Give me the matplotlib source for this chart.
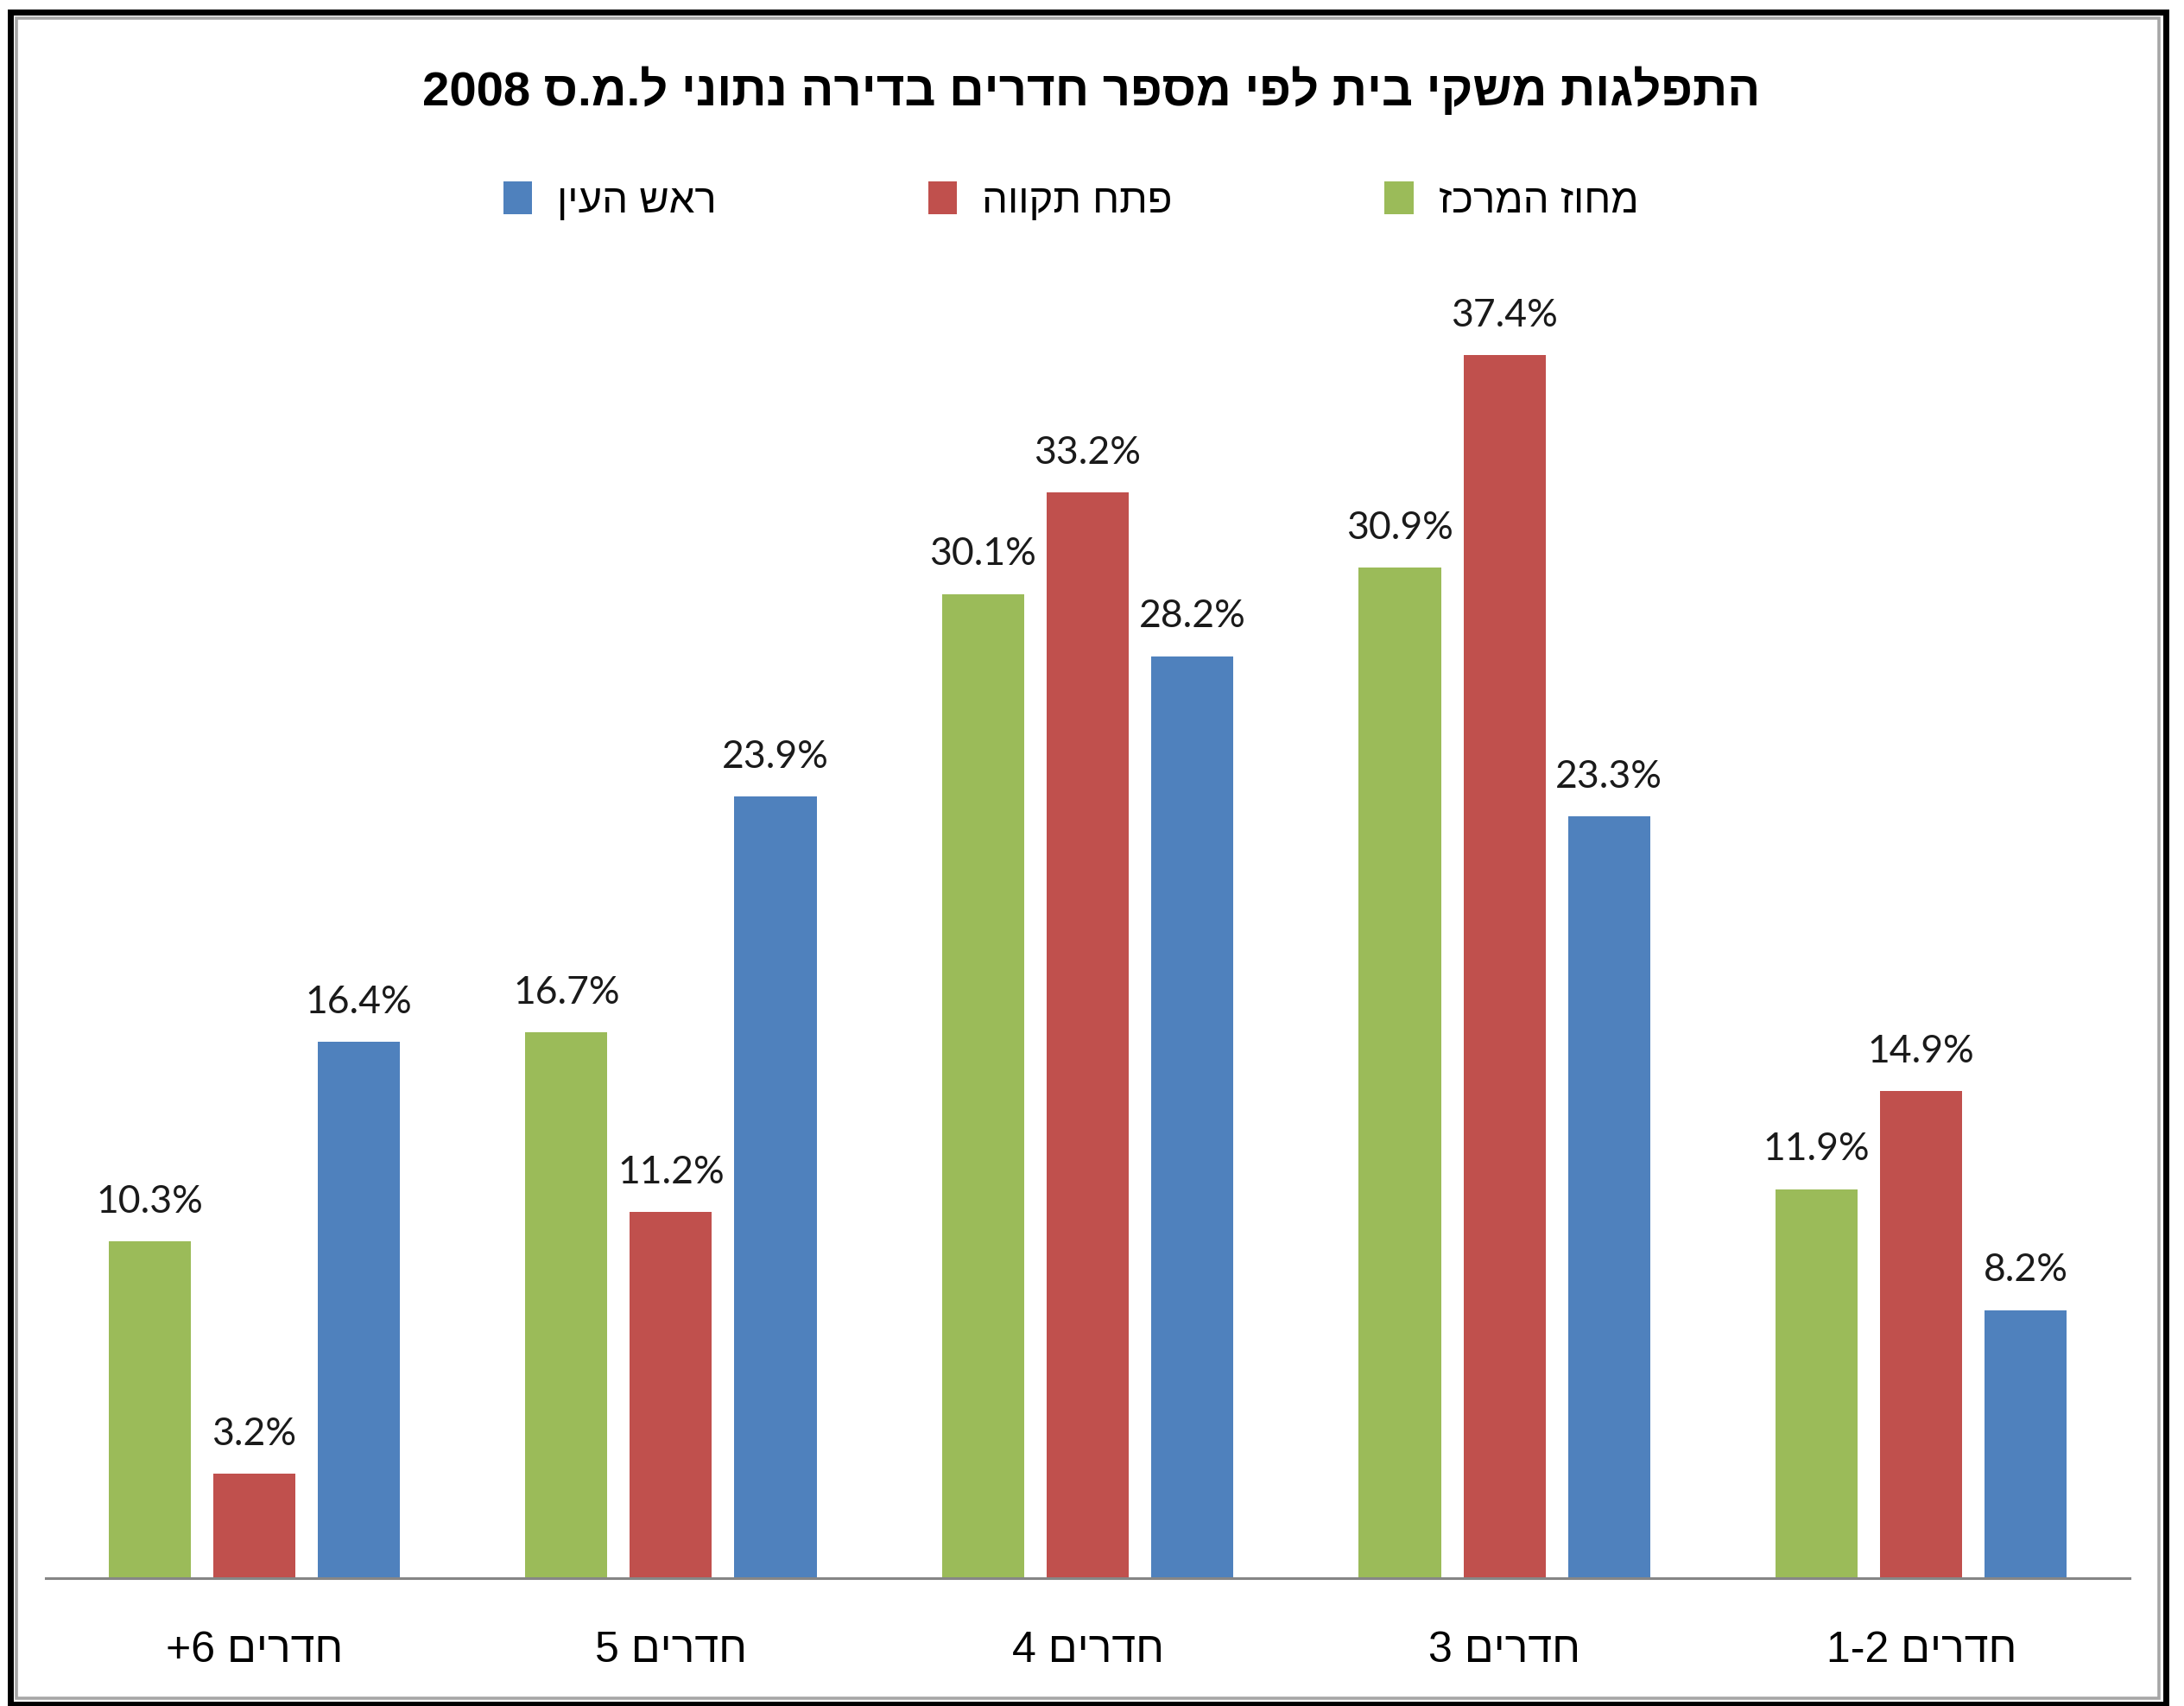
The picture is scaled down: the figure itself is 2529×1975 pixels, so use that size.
import matplotlib
matplotlib.use("Agg")
import matplotlib.pyplot as plt
from matplotlib.patches import Patch, Rectangle
import numpy as np

# ---- data ----
title = "התפלגות משקי בית לפי מספר חדרים בדירה נתוני ל.מ.ס 2008"
categories = ["חדרים +6", "חדרים 5", "חדרים 4", "חדרים 3", "חדרים 1-2"]
series_names = ["מחוז המרכז", "פתח תקווה", "ראש העין"]
merkaz = [10.3, 16.7, 30.1, 30.9, 11.9]
petah_tikva = [3.2, 11.2, 33.2, 37.4, 14.9]
rosh_haayin = [16.4, 23.9, 28.2, 23.3, 8.2]
colors = ["#9BBB59", "#C0504D", "#4F81BD"]


def is_heb(t):
    return any("\u0590" <= ch <= "\u05FF" for ch in t)


def visual(s):
    toks = s.split(" ")
    out = []
    for t in reversed(toks):
        out.append(t[::-1] if is_heb(t) else t)
    return " ".join(out)


HEB = ["Liberation Sans", "DejaVu Sans"]
NUM = ["Lato", "DejaVu Sans"]

W, H = 2529, 1975
fig = plt.figure(figsize=(W / 100, H / 100), dpi=100)
fig.patch.set_facecolor("white")


def fx(px):
    return px / W


def fy(py):
    return 1 - py / H


ax = fig.add_axes([fx(53), fy(1827), fx(2466) - fx(53), fy(313) - fy(1827)])

x = np.arange(len(categories))
width = 0.197
step = 0.251
all_series = [merkaz, petah_tikva, rosh_haayin]
for i, (vals, col) in enumerate(zip(all_series, colors)):
    bars = ax.bar(x + (i - 1) * step, vals, width=width, color=col,
                  edgecolor="none", zorder=2)
    for b, v in zip(bars, vals):
        ax.annotate(f"{v:.1f}%", (b.get_x() + b.get_width() / 2, v),
                    xytext=(0, 24), textcoords="offset points",
                    ha="center", va="baseline", fontsize=32,
                    family=NUM, color="#1a1a1a")

ax.set_xlim(-0.5, len(categories) - 0.5)
ax.set_ylim(0, 40)
ax.set_yticks([])
for s in ["left", "right", "top"]:
    ax.spines[s].set_visible(False)
ax.spines["bottom"].set_color("#868686")
ax.spines["bottom"].set_linewidth(2.2)
ax.set_xticks(x)
ax.set_xticklabels([visual(c) for c in categories], family=HEB,
                   fontsize=36, color="black")
ax.tick_params(axis="x", length=0, pad=44)
ax.set_facecolor("none")

# title
fig.text(fx(1264), fy(122), visual(title), ha="center", va="baseline",
         fontsize=40.5, fontweight="bold", family=HEB, color="black")

# legend (blue, red, green from left to right)
order = [2, 1, 0]
handles = [Patch(facecolor=colors[i], edgecolor="none",
                 label=visual(series_names[i])) for i in order]
leg = fig.legend(handles=handles, loc="center",
                 bbox_to_anchor=(fx(1240), fy(233)), ncol=3, frameon=False,
                 prop={"family": HEB, "size": 34}, handlelength=0.7,
                 handleheight=0.85, handletextpad=0.62, columnspacing=5.2,
                 borderpad=0)

# outer frame: black border and inner gray line
fig.patches.append(Rectangle((fx(11.5), fy(1973)), fx(2507.5) - fx(11.5),
                             fy(14) - fy(1973), transform=fig.transFigure,
                             fill=False, edgecolor="black", linewidth=5.0))
fig.patches.append(Rectangle((fx(18.5), fy(1966)), fx(2500) - fx(18.5),
                             fy(20.5) - fy(1966), transform=fig.transFigure,
                             fill=False, edgecolor="#a6a6a6", linewidth=2.6))

fig.savefig("out.png", dpi=100, facecolor="white")
